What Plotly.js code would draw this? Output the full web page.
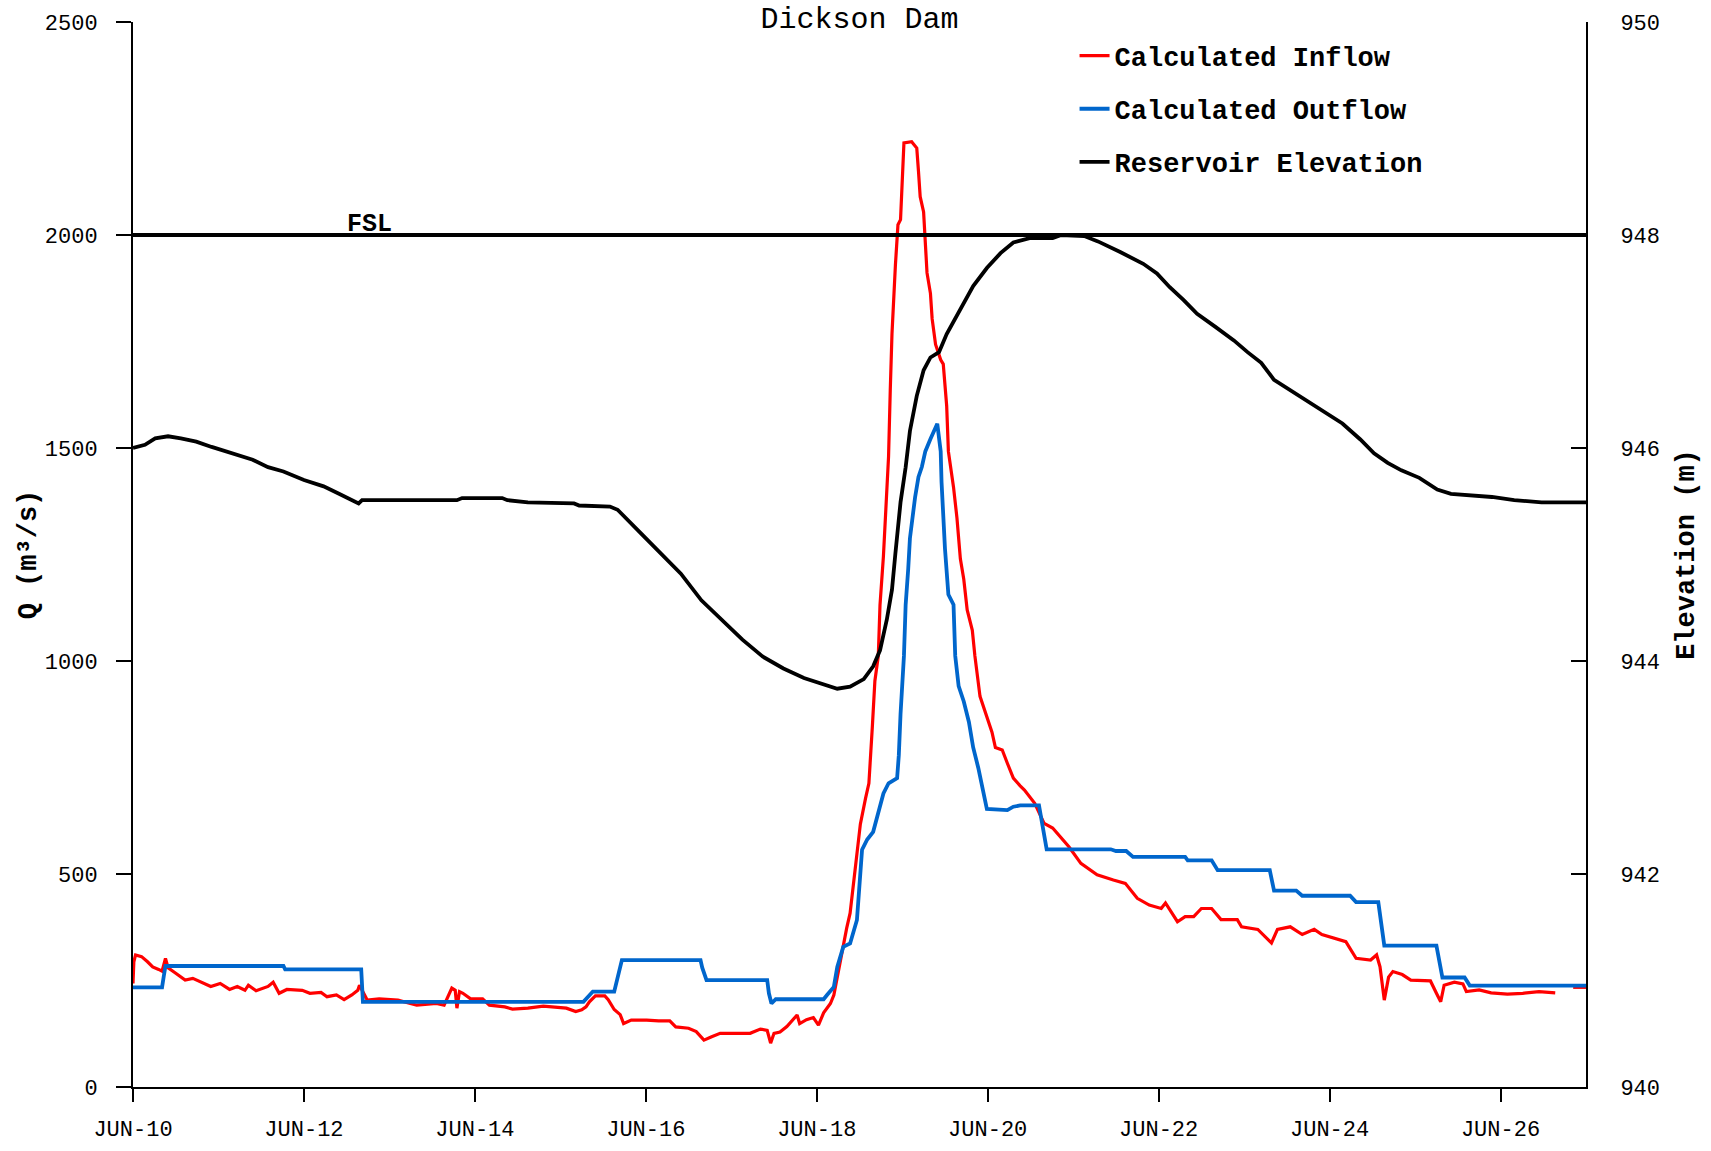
<!DOCTYPE html>
<html>
<head>
<meta charset="utf-8">
<script src="https://cdn.plot.ly/plotly-3.0.1.min.js"></script>
<style>
html,body{margin:0;padding:0;background:#fff;}
#chart{width:1711px;height:1151px;}
</style>
</head>
<body>
<div id="chart"></div>
<script>
// x values are days since JUN-10 00:00
const tickDays = [0, 2, 4, 6, 8, 10, 12, 14, 16];
const tickLabels = ['JUN-10', 'JUN-12', 'JUN-14', 'JUN-16', 'JUN-18', 'JUN-20', 'JUN-22', 'JUN-24', 'JUN-26'];

// Calculated Inflow (m3/s)
const inflowDays = [0.00,0.01,0.03,0.10,0.17,0.23,0.30,0.34,0.38,0.41,0.50,0.61,0.70,0.84,0.91,1.02,1.13,1.22,1.31,1.35,
  1.44,1.58,1.64,1.71,1.80,1.98,2.07,2.20,2.27,2.38,2.47,2.56,2.63,2.65,2.70,2.74,2.88,3.10,3.32,3.55,
  3.64,3.73,3.77,3.79,3.82,3.86,3.95,4.09,4.17,4.35,4.44,4.62,4.80,4.89,5.07,5.18,5.25,5.30,5.34,5.41,
  5.52,5.56,5.63,5.70,5.74,5.83,6.01,6.15,6.28,6.35,6.50,6.59,6.68,6.77,6.87,7.22,7.34,7.42,7.46,7.50,
  7.57,7.65,7.77,7.80,7.88,7.96,8.02,8.08,8.16,8.20,8.24,8.28,8.31,8.35,8.39,8.45,8.51,8.57,8.61,8.65,
  8.68,8.72,8.74,8.78,8.81,8.84,8.86,8.88,8.92,8.95,8.98,9.00,9.02,9.11,9.17,9.19,9.21,9.25,9.27,9.29,
  9.33,9.35,9.39,9.45,9.48,9.52,9.54,9.60,9.64,9.68,9.72,9.76,9.82,9.85,9.91,9.99,10.05,10.09,10.17,10.23,
  10.30,10.38,10.43,10.55,10.66,10.76,10.95,11.09,11.28,11.47,11.61,11.75,11.89,12.03,12.08,12.22,12.31,12.41,12.50,12.62,
  12.73,12.92,12.97,13.16,13.32,13.39,13.54,13.68,13.82,13.91,14.05,14.19,14.31,14.48,14.55,14.59,14.64,14.69,14.74,14.85,
  14.95,15.18,15.25,15.30,15.34,15.46,15.56,15.60,15.75,15.89,16.08,16.26,16.45,16.64,16.70,16.85,17.00];
const inflow = [243,294,310,306,294,282,276,272,302,280,267,251,255,243,236,243,229,236,227,239,
  226,236,246,220,229,227,220,222,212,216,205,216,227,239,220,204,207,204,192,196,
  192,232,227,185,224,220,207,207,192,188,183,185,190,188,185,177,181,188,200,214,
  214,205,182,170,149,157,157,155,155,141,138,130,110,118,126,126,136,133,103,126,
  129,142,169,149,158,163,145,174,196,216,259,294,329,373,408,509,617,677,713,845,
  953,1012,1132,1246,1348,1480,1636,1768,1929,2024,2036,2120,2216,2219,2204,2150,2090,2054,1983,1911,
  1863,1803,1743,1707,1697,1599,1492,1408,1336,1240,1192,1120,1072,1012,917,869,833,797,791,760,
  725,707,697,666,619,608,564,525,498,486,478,443,427,419,432,388,400,400,419,419,
  393,393,376,370,338,370,376,358,370,358,349,341,302,298,310,282,204,258,271,264,
  251,249,220,200,239,246,242,224,228,221,218,220,224,221,null,234,234];

// Calculated Outflow (m3/s)
const outflowDays = [0.00,0.34,0.36,0.38,1.76,1.78,2.67,2.69,5.27,5.38,5.63,5.67,5.72,6.64,6.66,6.71,7.42,7.44,7.47,7.52,
  8.08,8.12,8.20,8.24,8.28,8.31,8.39,8.43,8.47,8.53,8.59,8.66,8.72,8.78,8.84,8.94,8.96,8.98,9.02,9.04,
  9.07,9.09,9.15,9.19,9.23,9.27,9.33,9.41,9.45,9.46,9.50,9.54,9.60,9.62,9.66,9.72,9.78,9.83,9.89,9.95,
  9.99,10.23,10.30,10.38,10.60,10.69,11.44,11.50,11.62,11.70,12.31,12.34,12.62,12.69,13.30,13.35,13.61,13.68,14.24,14.31,
  14.57,14.64,15.25,15.32,15.58,15.64,17.00];
const outflow = [234,234,260,284,284,276,276,200,200,224,224,260,298,298,280,251,251,220,196,206,
  206,216,235,282,309,329,337,361,392,557,581,599,641,689,713,725,779,875,1012,1132,
  1216,1288,1384,1432,1456,1492,1521,1557,1492,1420,1264,1156,1132,1012,941,905,857,797,749,689,
  653,650,658,661,661,558,558,554,554,540,540,532,532,509,509,461,461,449,449,434,
  434,332,332,257,257,238,238];

// Reservoir Elevation (m)
const elevDays = [0.00,0.14,0.26,0.41,0.56,0.74,0.92,1.16,1.40,1.58,1.76,2.00,2.23,2.41,2.59,2.64,2.68,3.79,3.85,4.32,
  4.38,4.62,5.16,5.22,5.58,5.67,5.94,6.21,6.41,6.65,6.89,7.13,7.37,7.61,7.85,8.04,8.24,8.39,8.55,8.66,
  8.74,8.82,8.88,8.92,8.98,9.04,9.09,9.17,9.25,9.33,9.43,9.52,9.68,9.83,9.99,10.15,10.30,10.49,10.76,10.86,
  11.13,11.29,11.55,11.82,11.98,12.13,12.29,12.45,12.66,12.88,13.04,13.20,13.35,13.51,13.72,13.94,14.15,14.36,14.52,14.68,
  14.84,15.05,15.26,15.42,15.63,15.90,16.16,16.48,17.00];
const elevation = [946.00,946.03,946.09,946.11,946.09,946.06,946.01,945.95,945.89,945.82,945.78,945.70,945.64,945.57,945.50,945.48,945.51,945.51,945.53,945.53,
  945.51,945.49,945.48,945.46,945.45,945.42,945.20,944.98,944.82,944.57,944.38,944.20,944.04,943.93,943.84,943.79,943.74,943.76,943.83,943.95,
  944.10,944.39,944.67,945.01,945.49,945.82,946.16,946.49,946.73,946.85,946.90,947.07,947.31,947.52,947.69,947.83,947.93,947.97,947.97,948.00,
  947.99,947.94,947.84,947.73,947.64,947.51,947.39,947.26,947.14,947.01,946.90,946.80,946.64,946.56,946.45,946.34,946.23,946.08,945.95,945.86,
  945.79,945.72,945.61,945.57,945.56,945.54,945.51,945.49,945.49];

const fslLevel = 948;

const monoFamily = 'Liberation Mono, DejaVu Sans Mono, monospace';
const tickFont = {family: monoFamily, size: 22, color: '#000'};
const boldFont = {family: monoFamily, size: 27, color: '#000', weight: 'bold'};

const traces = [
  {x: inflowDays, y: inflow, type: 'scatter', mode: 'lines', name: 'Calculated Inflow',
   line: {color: '#ff0000', width: 3.2}, legendgroup: 'a', connectgaps: false, yaxis: 'y'},
  {x: outflowDays, y: outflow, type: 'scatter', mode: 'lines', name: 'Calculated Outflow',
   line: {color: '#0066cc', width: 3.8}, legendgroup: 'b', yaxis: 'y'},
  {x: elevDays, y: elevation, type: 'scatter', mode: 'lines', name: 'Reservoir Elevation',
   line: {color: '#000000', width: 3.8}, legendgroup: 'c', yaxis: 'y2'}
];

const layout = {
  width: 1711, height: 1151,
  margin: {l: 133, r: 125, t: 22, b: 64, pad: 0},
  paper_bgcolor: '#fff', plot_bgcolor: '#fff',
  title: {text: 'Dickson Dam', font: {family: monoFamily, size: 30, color: '#000'},
          xref: 'paper', x: 0.5, xanchor: 'center', yref: 'container', y: 0.9852, yanchor: 'middle'},
  showlegend: true,
  legend: {x: 0.648, y: 0.991, xanchor: 'left', yanchor: 'top', bgcolor: 'rgba(0,0,0,0)',
           font: boldFont, tracegroupgap: 15, traceorder: 'grouped'},
  xaxis: {range: [0, 17], tickmode: 'array', tickvals: tickDays, ticktext: tickLabels,
          showline: true, linecolor: '#000', linewidth: 2, ticks: 'outside', ticklen: 13, tickwidth: 2, tickcolor: '#000',
          showgrid: false, zeroline: false, tickfont: tickFont, ticklabelstandoff: 8, automargin: false, fixedrange: true},
  yaxis: {range: [0, 2500], tick0: 0, dtick: 500, showline: true, linecolor: '#000', linewidth: 2,
          ticks: 'outside', ticklen: 15, tickwidth: 2, tickcolor: '#000', showgrid: false, zeroline: false,
          tickfont: tickFont, ticklabelstandoff: 14, automargin: false,
          title: {text: 'Q (m³/s)', font: boldFont, standoff: 0}},
  yaxis2: {range: [940, 950], tick0: 940, dtick: 2, overlaying: 'y', side: 'right', showline: true, linecolor: '#000', linewidth: 2,
           ticks: 'inside', ticklen: 15, tickwidth: 2, tickcolor: '#000', showgrid: false, zeroline: false,
           tickfont: tickFont, ticklabelstandoff: 28, automargin: false,
           title: {text: 'Elevation (m)', font: boldFont, standoff: 16}},
  shapes: [
    {type: 'line', xref: 'paper', x0: 0, x1: 1, yref: 'y2', y0: fslLevel, y1: fslLevel,
     line: {color: '#000', width: 4}, layer: 'above'}
  ],
  annotations: [
    {text: 'FSL', x: 2.77, xref: 'x', y: fslLevel, yref: 'y2', xanchor: 'center', yanchor: 'bottom',
     showarrow: false, font: {family: monoFamily, size: 25, color: '#000', weight: 'bold'}, yshift: -6}
  ]
};

Plotly.newPlot('chart', traces, layout, {displayModeBar: false, staticPlot: true});
</script>
</body>
</html>
